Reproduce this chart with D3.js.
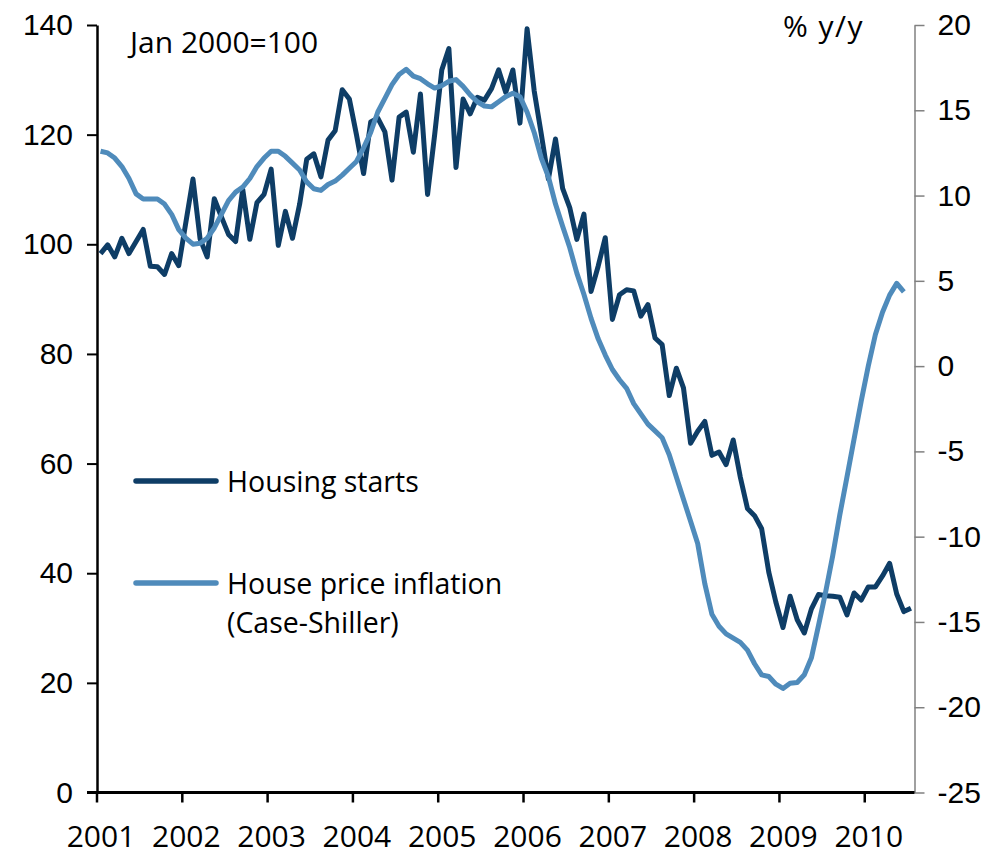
<!DOCTYPE html>
<html>
<head>
<meta charset="utf-8">
<script src="https://cdn.jsdelivr.net/npm/d3@7"></script>
<style>
  html, body { margin: 0; padding: 0; background: #ffffff; }
  svg { display: block; font-family: "Open Sans", Lato, sans-serif; }
  .lbl { font-size: 30px; fill: #000; }
  .leg { font-size: 28.5px; fill: #000; }
</style>
</head>
<body>
<svg id="chart" width="1008" height="858"></svg>
<script>
// ============================================================
// Data — monthly, Jan 2001 onwards
// ============================================================
const yearLabels = ["2001", "2002", "2003", "2004", "2005", "2006", "2007", "2008", "2009", "2010"];

// Housing starts, index Jan 2000 = 100 (Jan 2001 .. Jul 2010)
const housingStarts = [
    98.3, 99.9, 97.7, 101.1, 98.3, 100.5, 102.7, 96.0, 95.9, 94.5, 98.3, 96.1,
    104.0, 111.9, 101.0, 97.7, 108.3, 105.0, 101.8, 100.5, 110.0, 100.9, 107.6, 109.1,
    113.7, 99.8, 106.0, 101.1, 107.3, 115.5, 116.5, 112.3, 119.0, 120.7, 128.2, 126.5,
    120.0, 112.9, 122.3, 123.0, 120.5, 111.7, 123.2, 124.1, 116.8, 127.4, 109.1, 120.0,
    131.8, 135.7, 114.0, 126.5, 123.8, 126.8, 126.3, 128.4, 131.8, 127.7, 131.8, 122.1,
    139.3, 128.0, 120.1, 111.9, 119.2, 110.2, 106.7, 100.9, 105.5, 91.4, 96.0, 101.2,
    86.3, 90.8, 91.7, 91.5, 86.9, 89.0, 82.9, 81.7, 72.4, 77.4, 73.8, 63.7,
    65.9, 67.7, 61.5, 62.1, 59.8, 64.3, 57.5, 51.8, 50.5, 48.1, 40.2, 34.7,
    30.1, 35.8, 31.5, 29.1, 33.5, 36.1, 35.9, 35.8, 35.6, 32.4, 36.4, 35.1,
    37.5, 37.5, 39.5, 41.8, 36.2, 33.0, 33.6
];

// Case-Shiller house price inflation, % y/y (Jan 2001 .. Jun 2010)
const housePriceInflation = [
    12.6, 12.5, 12.2, 11.7, 11.0, 10.1, 9.8, 9.8, 9.8, 9.5, 8.9, 8.0,
    7.5, 7.15, 7.2, 7.5, 8.1, 8.9, 9.7, 10.2, 10.5, 11.0, 11.7, 12.2,
    12.6, 12.6, 12.3, 11.9, 11.5, 10.8, 10.4, 10.3, 10.65, 10.85, 11.2, 11.6,
    12.0, 12.8, 13.7, 14.9, 15.7, 16.5, 17.1, 17.4, 17.0, 16.85, 16.55, 16.3,
    16.45, 16.7, 16.8, 16.4, 15.9, 15.5, 15.25, 15.2, 15.5, 15.8, 16.0, 15.8,
    14.9, 13.7, 12.2, 11.1, 9.5, 8.2, 6.95, 5.45, 4.2, 2.8, 1.6, 0.65,
    -0.2, -0.8, -1.3, -2.2, -2.8, -3.4, -3.8, -4.2, -5.2, -6.5, -7.8, -9.1,
    -10.4, -12.75, -14.55, -15.25, -15.7, -15.95, -16.2, -16.65, -17.45, -18.1, -18.2, -18.65,
    -18.9, -18.6, -18.55, -18.1, -17.1, -15.2, -13.25, -11.1, -8.7, -6.5, -4.27, -2.06,
    0.0, 1.85, 3.16, 4.16, 4.85, 4.35
];

const leftTicks = [0, 20, 40, 60, 80, 100, 120, 140];
const rightTicks = [-25, -20, -15, -10, -5, 0, 5, 10, 15, 20];

const seriesNames = ["Housing starts", "House price inflation", "(Case-Shiller)"];

// ============================================================
// Layout
// ============================================================
const plot = { left: 97, right: 914.5, top: 25, bottom: 792.5 };
const COLOR_STARTS = "#0e3d66";
const COLOR_PRICES = "#4f8bbb";

const svg = d3.select("#chart");

// category axis: one slot per month, points in slot centres
const x = d3.scaleLinear()
    .domain([-0.5, housingStarts.length - 0.5])
    .range([plot.left, plot.right]);

const yLeft = d3.scaleLinear().domain([0, 140]).range([plot.bottom, plot.top]);
const yRight = d3.scaleLinear().domain([-25, 20]).range([plot.bottom, plot.top]);

// plain hyphen for negatives, like the original
const plainFmt = function (d) { return String(d); };

// --- left axis ---
const leftAxis = svg.append("g")
    .attr("transform", `translate(${plot.left},0)`)
    .call(d3.axisLeft(yLeft).tickValues(leftTicks).tickFormat(plainFmt)
        .tickSize(10).tickPadding(14).tickSizeOuter(0));
leftAxis.select(".domain").attr("stroke", "#000").attr("stroke-width", 2.5);
leftAxis.selectAll(".tick line").attr("stroke", "#000").attr("stroke-width", 2);
leftAxis.selectAll("text").attr("class", "lbl").attr("font-family", null).attr("font-size", null);

// --- right axis ---
const rightAxis = svg.append("g")
    .attr("transform", `translate(${plot.right},0)`)
    .call(d3.axisRight(yRight).tickValues(rightTicks).tickFormat(plainFmt)
        .tickSize(10).tickPadding(13).tickSizeOuter(0));
rightAxis.select(".domain").attr("stroke", "#808080").attr("stroke-width", 1.5);
rightAxis.selectAll(".tick line").attr("stroke", "#808080").attr("stroke-width", 1.5);
rightAxis.selectAll("text").attr("class", "lbl").attr("font-family", null).attr("font-size", null);

// --- bottom axis (year ticks at month boundaries) ---
const bottom = svg.append("g");
bottom.append("line")
    .attr("x1", plot.left - 10).attr("x2", plot.right)
    .attr("y1", plot.bottom).attr("y2", plot.bottom)
    .attr("stroke", "#000").attr("stroke-width", 3);
bottom.selectAll(".yt")
    .data(yearLabels)
    .enter()
    .append("line")
    .attr("class", "yt")
    .attr("x1", function (d, i) { return x(i * 12 - 0.5); })
    .attr("x2", function (d, i) { return x(i * 12 - 0.5); })
    .attr("y1", plot.bottom).attr("y2", plot.bottom + 10)
    .attr("stroke", "#000").attr("stroke-width", 2.5);
bottom.selectAll(".yl")
    .data(yearLabels)
    .enter()
    .append("text")
    .attr("class", "lbl")
    .attr("x", function (d, i) { return x(i * 12 - 0.5) + 4; })
    .attr("y", 847)
    .attr("text-anchor", "middle")
    .text(function (d) { return d; });

// --- lines ---
const lineStarts = d3.line()
    .x(function (d, i) { return x(i); })
    .y(function (d) { return yLeft(d); });
const linePrices = d3.line()
    .x(function (d, i) { return x(i); })
    .y(function (d) { return yRight(d); });

svg.append("path")
    .datum(housingStarts)
    .attr("d", lineStarts)
    .attr("fill", "none")
    .attr("stroke", COLOR_STARTS)
    .attr("stroke-width", 5)
    .attr("stroke-linejoin", "round");

svg.append("path")
    .datum(housePriceInflation)
    .attr("d", linePrices)
    .attr("fill", "none")
    .attr("stroke", COLOR_PRICES)
    .attr("stroke-width", 5)
    .attr("stroke-linejoin", "round");

// --- axis titles ---
svg.append("text").attr("class", "lbl").attr("x", 130).attr("y", 53).text("Jan 2000=100");
svg.append("text").attr("class", "lbl").attr("x", 783).attr("y", 37)
    .attr("letter-spacing", 1.5).text("% y/y");

// --- legend ---
const legend = svg.append("g");
const legendRows = [
    { color: COLOR_STARTS, y: 481, lines: [seriesNames[0]] },
    { color: COLOR_PRICES, y: 583, lines: [seriesNames[1], seriesNames[2]] }
];
legendRows.forEach(function (row) {
    legend.append("line")
        .attr("x1", 136).attr("x2", 216)
        .attr("y1", row.y).attr("y2", row.y)
        .attr("stroke", row.color).attr("stroke-width", 5.5)
        .attr("stroke-linecap", "round");
    // one text element per entry, wrapped lines as tspans
    const label = legend.append("text").attr("class", "leg")
        .attr("x", 227).attr("y", row.y + 11);
    row.lines.forEach(function (t, k) {
        label.append("tspan")
            .attr("x", 227)
            .attr("dy", k === 0 ? 0 : 39)
            .text(t);
    });
});
</script>
</body>
</html>
